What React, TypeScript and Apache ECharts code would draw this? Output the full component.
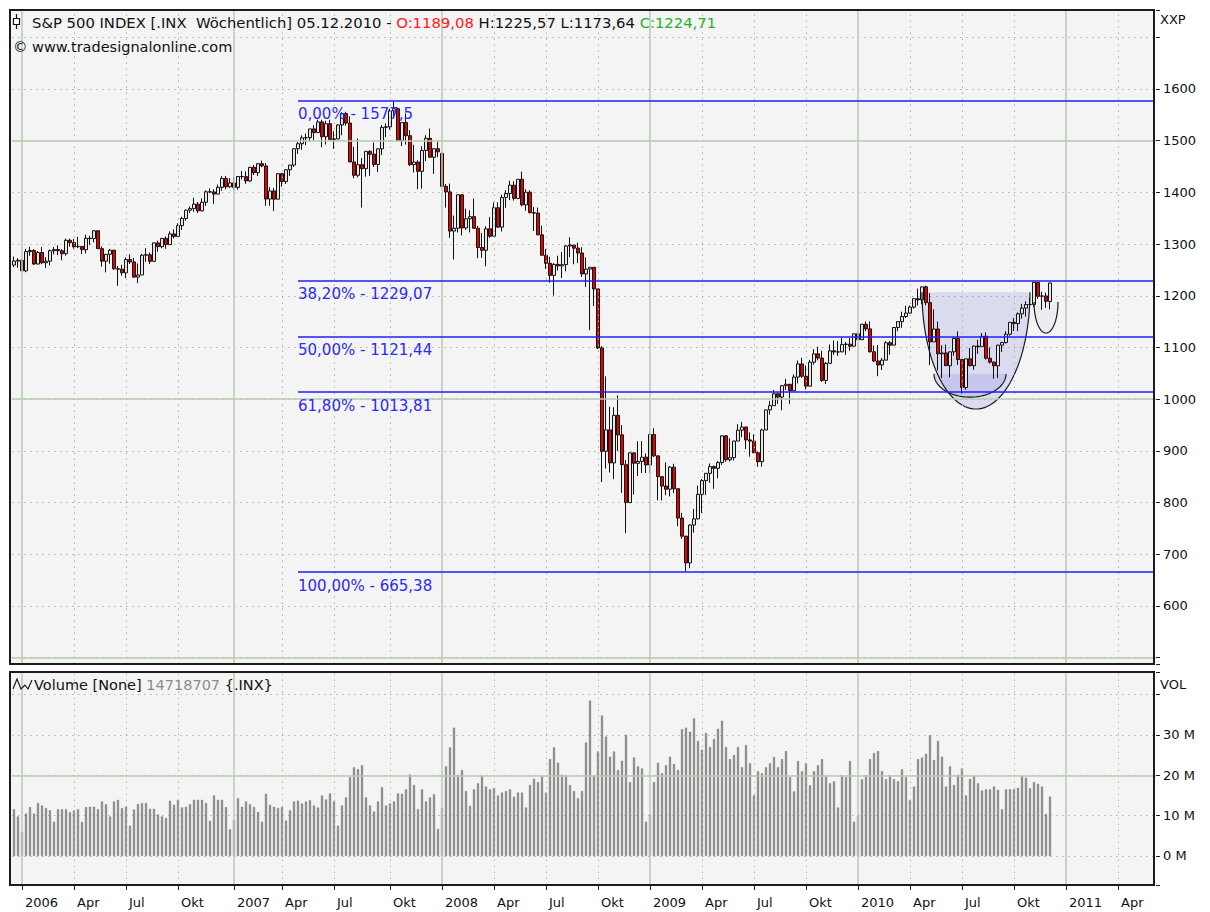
import React, { useEffect, useRef } from 'react';
import * as echarts from 'echarts';

// ---------- week axis (Sunday label dates of weekly bars) ----------
const firstWeekLabel = Date.UTC(2005, 11, 18);
const weekCount = 286;
const monthNames = ['Jan', 'Feb', 'Mär', 'Apr', 'Mai', 'Jun', 'Jul', 'Aug', 'Sep', 'Okt', 'Nov', 'Dez'];

// ---------- weekly OHLC rows [open, high, low, close] ----------
const ohlc2005 = [
  [1259.4, 1275.8, 1255.5, 1267.3], [1267.3, 1272.8, 1254.2, 1268.7], [1268.7, 1271.8, 1248.3, 1248.3],
];
const ohlc2006 = [
  [1248.3, 1290.7, 1245.7, 1285.5], [1285.5, 1294.9, 1277.3, 1287.6], [1287.6, 1290.0, 1259.7, 1261.5], [1261.5, 1286.4, 1260.9, 1283.7],
  [1283.7, 1294.2, 1261.2, 1264.0], [1264.0, 1274.6, 1253.6, 1266.9], [1266.9, 1289.5, 1258.9, 1287.2], [1287.2, 1294.2, 1280.2, 1289.4],
  [1289.4, 1297.6, 1278.7, 1287.2], [1287.2, 1290.0, 1268.7, 1281.4], [1281.4, 1310.9, 1277.6, 1307.3], [1307.3, 1310.6, 1295.1, 1302.9],
  [1302.9, 1310.2, 1291.2, 1294.9], [1294.9, 1314.1, 1292.1, 1295.5], [1295.5, 1296.1, 1280.7, 1289.1], [1289.1, 1318.2, 1282.0, 1311.3],
  [1311.3, 1316.0, 1298.4, 1310.6], [1310.6, 1326.7, 1303.5, 1325.8], [1325.8, 1326.7, 1291.2, 1291.2], [1291.2, 1295.7, 1256.6, 1267.0],
  [1267.0, 1280.6, 1245.3, 1280.2], [1280.2, 1290.7, 1262.1, 1288.2], [1288.2, 1288.9, 1250.0, 1252.3], [1252.3, 1257.6, 1219.3, 1251.5],
  [1251.5, 1260.1, 1238.7, 1244.5], [1244.5, 1274.1, 1234.4, 1270.2], [1270.2, 1280.4, 1261.3, 1265.5], [1265.5, 1273.3, 1234.7, 1236.2],
  [1236.2, 1262.6, 1224.5, 1240.3], [1240.3, 1280.9, 1240.1, 1278.6], [1278.6, 1292.2, 1265.7, 1279.4], [1279.4, 1283.7, 1261.3, 1266.7],
  [1266.7, 1303.6, 1266.7, 1302.3], [1302.3, 1306.7, 1285.3, 1295.1], [1295.1, 1312.0, 1291.9, 1311.0], [1311.0, 1314.7, 1290.9, 1299.0],
  [1299.0, 1324.7, 1298.2, 1319.7], [1319.7, 1328.5, 1310.9, 1314.8], [1314.8, 1340.3, 1314.8, 1335.8], [1335.8, 1353.0, 1327.1, 1349.6],
  [1349.6, 1366.6, 1345.1, 1365.6], [1365.6, 1372.9, 1360.1, 1368.6], [1368.6, 1389.5, 1362.3, 1377.3], [1377.3, 1381.4, 1360.3, 1364.3],
  [1364.3, 1388.6, 1363.5, 1380.9], [1380.9, 1403.8, 1374.0, 1401.2], [1401.2, 1407.9, 1398.5, 1400.9], [1400.9, 1406.3, 1377.8, 1396.7],
  [1396.7, 1415.3, 1396.7, 1409.8], [1409.8, 1431.6, 1403.1, 1427.1], [1427.1, 1431.8, 1405.9, 1410.8], [1410.8, 1427.7, 1408.8, 1418.3],
];
const ohlc2007 = [
  [1418.3, 1429.4, 1403.9, 1409.7], [1409.7, 1431.2, 1405.4, 1430.7], [1430.7, 1441.6, 1424.8, 1430.5], [1430.5, 1440.7, 1416.6, 1422.2],
  [1422.2, 1449.3, 1420.3, 1448.4], [1448.4, 1452.9, 1433.4, 1438.1], [1438.1, 1456.6, 1431.6, 1455.5], [1455.5, 1461.6, 1448.6, 1451.2],
  [1451.2, 1456.9, 1374.1, 1387.2], [1387.2, 1410.2, 1374.2, 1402.8], [1402.8, 1408.7, 1363.9, 1386.9], [1386.9, 1437.7, 1386.9, 1436.1],
  [1436.1, 1437.8, 1410.8, 1420.9], [1420.9, 1444.9, 1416.4, 1443.8], [1443.8, 1453.1, 1431.9, 1452.9], [1452.9, 1484.7, 1449.0, 1484.4],
  [1484.4, 1498.0, 1474.4, 1494.1], [1494.1, 1510.3, 1482.3, 1505.6], [1505.6, 1513.8, 1491.4, 1505.9], [1505.9, 1522.8, 1497.8, 1522.8],
  [1522.8, 1529.9, 1500.7, 1515.7], [1515.7, 1540.6, 1515.7, 1536.3], [1536.3, 1540.6, 1487.4, 1507.7], [1507.7, 1538.7, 1492.7, 1532.9],
  [1532.9, 1540.5, 1502.6, 1502.6], [1502.6, 1518.3, 1484.2, 1503.4], [1503.4, 1531.9, 1503.4, 1530.4], [1530.4, 1555.1, 1510.4, 1552.5],
  [1552.5, 1555.9, 1529.2, 1534.1], [1534.1, 1547.2, 1458.9, 1458.9], [1458.9, 1488.3, 1427.4, 1433.1], [1433.1, 1503.9, 1429.0, 1453.6],
  [1453.6, 1466.3, 1370.6, 1445.9], [1445.9, 1479.4, 1430.5, 1479.4], [1479.4, 1481.5, 1432.0, 1474.0], [1474.0, 1496.4, 1449.1, 1454.0],
  [1454.0, 1485.0, 1439.3, 1484.3], [1484.3, 1530.0, 1471.9, 1525.8], [1525.8, 1533.4, 1507.2, 1526.8], [1526.8, 1561.9, 1521.3, 1557.6],
  [1557.6, 1576.1, 1546.7, 1561.8], [1561.8, 1563.1, 1500.0, 1500.6], [1500.6, 1535.6, 1489.6, 1535.3], [1535.3, 1552.8, 1492.6, 1509.7],
  [1509.7, 1520.5, 1450.8, 1453.7], [1453.7, 1492.1, 1438.5, 1458.7], [1458.7, 1462.2, 1406.1, 1440.7], [1440.7, 1488.9, 1407.2, 1481.1],
  [1481.1, 1510.6, 1460.6, 1504.7], [1504.7, 1523.6, 1467.3, 1468.0], [1468.0, 1485.4, 1435.7, 1484.5], [1484.5, 1499.1, 1468.2, 1478.5],
];
const ohlc2008 = [
  [1475.3, 1478.0, 1410.9, 1411.6], [1411.6, 1416.3, 1370.6, 1401.0], [1401.0, 1417.0, 1312.0, 1325.2], [1325.2, 1355.2, 1270.1, 1330.6],
  [1330.6, 1396.0, 1322.4, 1395.4], [1395.4, 1396.0, 1316.8, 1331.3], [1331.3, 1368.7, 1327.6, 1349.0], [1349.0, 1365.4, 1322.6, 1353.1],
  [1353.1, 1388.3, 1330.6, 1330.6], [1330.6, 1335.1, 1272.7, 1293.4], [1293.4, 1321.7, 1273.4, 1288.1], [1288.1, 1334.6, 1257.0, 1329.5],
  [1329.5, 1352.2, 1312.3, 1315.2], [1315.2, 1380.9, 1315.2, 1370.4], [1370.4, 1380.9, 1332.0, 1332.8], [1332.8, 1395.9, 1324.4, 1390.3],
  [1390.3, 1404.6, 1370.2, 1397.8], [1397.8, 1422.7, 1385.2, 1413.9], [1413.9, 1421.6, 1384.1, 1388.3], [1388.3, 1425.9, 1386.7, 1425.4],
  [1425.4, 1440.2, 1373.1, 1375.9], [1375.9, 1406.3, 1364.4, 1400.4], [1400.4, 1404.1, 1359.8, 1360.7], [1360.7, 1371.6, 1325.3, 1360.0],
  [1360.0, 1370.6, 1317.3, 1317.9], [1317.9, 1335.6, 1278.4, 1278.4], [1278.4, 1290.7, 1252.0, 1262.9], [1262.9, 1275.4, 1225.3, 1239.5],
  [1239.5, 1263.2, 1200.4, 1260.7], [1260.7, 1277.4, 1248.7, 1257.8], [1257.8, 1284.9, 1234.4, 1260.3], [1260.3, 1297.9, 1247.4, 1296.3],
  [1296.3, 1313.2, 1274.8, 1298.2], [1298.2, 1298.2, 1261.0, 1292.2], [1292.2, 1303.0, 1263.2, 1282.8], [1282.8, 1294.0, 1236.4, 1242.3],
  [1242.3, 1274.4, 1217.2, 1251.7], [1251.7, 1255.2, 1133.5, 1255.1], [1255.1, 1255.1, 1180.0, 1213.3], [1213.3, 1213.5, 1097.0, 1099.2],
  [1099.2, 1102.5, 839.8, 899.2], [899.2, 1044.3, 865.8, 940.6], [940.6, 985.4, 858.4, 876.8], [876.8, 984.4, 845.3, 968.8],
  [968.8, 1007.5, 899.7, 931.0], [931.0, 950.0, 818.7, 873.3], [873.3, 882.3, 741.0, 800.0], [800.0, 896.3, 800.0, 896.2],
  [896.2, 896.2, 815.7, 876.1], [876.1, 918.6, 851.4, 879.7], [879.7, 918.9, 857.1, 887.9], [887.9, 895.0, 857.1, 872.8],
];
const ohlc2009 = [
  [872.8, 934.7, 857.3, 931.8], [931.8, 943.9, 888.3, 890.4], [890.4, 890.4, 804.5, 850.1], [850.1, 851.6, 804.3, 832.0],
  [832.0, 877.9, 814.3, 825.9], [825.9, 870.8, 812.0, 868.6], [868.6, 875.0, 818.4, 826.8], [826.8, 827.0, 754.3, 770.1],
  [770.1, 780.1, 730.0, 735.1], [735.1, 735.1, 666.8, 683.4], [683.4, 758.3, 672.9, 756.6], [756.6, 788.0, 741.9, 768.5],
  [768.5, 832.9, 767.6, 815.9], [815.9, 845.6, 779.8, 842.5], [842.5, 856.9, 814.5, 856.6], [856.6, 875.6, 838.6, 869.6],
  [869.6, 871.8, 826.8, 866.2], [866.2, 880.4, 847.1, 877.5], [877.5, 930.2, 873.0, 929.2], [929.2, 930.2, 878.9, 882.9],
  [882.9, 924.6, 879.6, 887.0], [887.0, 919.2, 881.3, 919.1], [919.1, 951.7, 919.1, 940.1], [940.1, 956.2, 926.6, 946.2],
  [946.2, 946.3, 903.8, 921.2], [921.2, 935.8, 888.9, 918.9], [918.9, 931.9, 896.4, 896.4], [896.4, 898.7, 869.3, 879.1],
  [879.1, 943.0, 869.3, 940.4], [940.4, 979.8, 940.4, 979.3], [979.3, 996.7, 970.2, 987.5], [987.5, 1018.0, 987.5, 1010.5],
  [1010.5, 1013.1, 991.0, 1004.1], [1004.1, 1027.6, 978.5, 1026.1], [1026.1, 1039.5, 1017.6, 1028.9], [1028.9, 1028.9, 991.0, 1016.4],
  [1016.4, 1048.2, 1016.4, 1042.7], [1042.7, 1074.8, 1030.6, 1068.3], [1068.3, 1080.2, 1041.2, 1044.4], [1044.4, 1065.4, 1019.0, 1025.2],
  [1025.2, 1076.0, 1025.2, 1071.5], [1071.5, 1096.6, 1066.8, 1087.7], [1087.7, 1101.4, 1075.0, 1079.6], [1079.6, 1094.0, 1033.4, 1036.2],
  [1036.2, 1072.0, 1029.4, 1069.3], [1069.3, 1106.0, 1069.3, 1093.5], [1093.5, 1113.7, 1085.7, 1091.4], [1091.4, 1112.4, 1083.7, 1091.5],
  [1091.5, 1119.1, 1091.5, 1106.0], [1106.0, 1110.7, 1085.9, 1106.4], [1106.4, 1118.4, 1093.9, 1102.5], [1102.5, 1126.5, 1102.5, 1126.5],
  [1126.5, 1130.4, 1114.8, 1115.1],
];
const ohlc2010 = [
  [1115.1, 1145.4, 1115.1, 1145.0], [1145.0, 1150.4, 1131.4, 1136.0], [1136.0, 1150.5, 1090.2, 1091.8], [1091.8, 1103.7, 1071.6, 1073.9],
  [1073.9, 1104.7, 1044.5, 1066.2], [1066.2, 1080.0, 1056.5, 1075.5], [1075.5, 1112.4, 1075.5, 1109.2], [1109.2, 1112.4, 1086.0, 1104.5],
  [1104.5, 1139.0, 1104.5, 1138.7], [1138.7, 1151.1, 1131.4, 1150.0], [1150.0, 1169.2, 1138.0, 1159.9], [1159.9, 1180.5, 1156.9, 1166.6],
  [1166.6, 1181.4, 1165.8, 1178.1], [1178.1, 1194.7, 1175.1, 1194.4], [1194.4, 1213.9, 1181.0, 1192.1], [1192.1, 1217.8, 1183.7, 1217.3],
  [1217.3, 1219.8, 1181.6, 1186.7], [1186.7, 1205.1, 1065.8, 1110.9], [1110.9, 1173.6, 1110.9, 1135.7], [1135.7, 1150.0, 1055.9, 1087.7],
  [1087.7, 1104.4, 1040.8, 1089.4], [1089.4, 1105.7, 1064.9, 1064.9], [1064.9, 1092.0, 1042.2, 1091.6], [1091.6, 1119.1, 1084.3, 1117.5],
  [1117.5, 1131.2, 1066.4, 1076.8], [1076.8, 1076.8, 1010.9, 1022.6], [1022.6, 1078.0, 1018.4, 1078.0], [1078.0, 1099.1, 1063.3, 1064.9],
  [1064.9, 1103.8, 1056.9, 1102.7], [1102.7, 1115.0, 1087.7, 1101.6], [1101.6, 1128.0, 1101.6, 1121.6], [1121.6, 1129.2, 1076.6, 1079.3],
  [1079.3, 1100.1, 1069.0, 1071.7], [1071.7, 1073.2, 1039.7, 1064.6], [1064.6, 1105.1, 1040.9, 1104.5], [1104.5, 1110.9, 1091.2, 1109.6],
  [1109.6, 1131.5, 1107.6, 1125.6], [1125.6, 1148.9, 1122.8, 1148.7], [1148.7, 1157.2, 1131.9, 1146.2], [1146.2, 1167.7, 1131.9, 1165.2],
  [1165.2, 1184.4, 1155.7, 1176.2], [1176.2, 1189.4, 1159.7, 1183.1], [1183.1, 1196.1, 1171.7, 1183.3], [1183.3, 1227.1, 1179.0, 1225.9],
  [1225.9, 1226.8, 1194.1, 1199.2], [1199.2, 1207.4, 1173.0, 1199.7], [1199.7, 1206.0, 1176.7, 1189.4], [1189.08, 1225.57, 1173.64, 1224.71],
];

// ---------- weekly volume (millions) ----------
const vol2005 = [11.6, 9.8, 6.0];
const vol2006 = [10.5, 12.1, 10.5, 13.1, 12.5, 11.9, 11.3, 8.5, 11.6, 11.6, 11.6, 10.8, 11.3, 11.6, 8.4, 12.1, 12.2, 12.2, 11.6, 13.5, 12.8, 9.8, 13.5, 13.9, 11.9, 12.2, 7.5, 11.5, 12.9, 13.1, 13.1, 11.7, 11.7, 10.3, 9.8, 9.4, 13.7, 12.7, 13.9, 12.0, 12.2, 12.8, 13.9, 13.9, 13.9, 13.1, 8.7, 15.0, 13.9, 13.9, 12.1, 6.6];
const vol2007 = [8.9, 14.3, 12.2, 13.5, 12.8, 12.1, 10.9, 8.5, 15.4, 12.7, 12.2, 11.9, 12.1, 8.8, 11.3, 13.5, 13.7, 13.0, 13.5, 13.8, 12.5, 12.0, 15.0, 14.0, 15.5, 13.5, 7.5, 12.5, 14.5, 19.5, 22.0, 21.5, 22.5, 14.5, 12.5, 11.0, 13.5, 17.0, 12.5, 13.0, 13.5, 15.5, 15.4, 16.5, 20.2, 17.6, 11.6, 16.5, 13.5, 14.5, 15.3, 6.7];
const vol2008 = [12.0, 22.2, 26.9, 31.8, 20.1, 21.3, 16.1, 12.4, 16.5, 18.0, 19.9, 17.2, 16.5, 16.8, 15.0, 15.7, 16.1, 16.5, 14.7, 15.7, 15.7, 12.0, 17.6, 19.1, 18.3, 19.9, 15.7, 24.0, 26.9, 23.1, 20.1, 19.9, 17.6, 16.1, 14.3, 16.1, 28.1, 38.5, 19.9, 25.9, 34.8, 29.6, 24.6, 25.9, 21.3, 23.6, 30.0, 18.3, 24.4, 22.2, 21.7, 8.5];
const vol2009 = [10.4, 18.3, 23.1, 20.5, 22.5, 24.6, 22.8, 21.3, 31.4, 31.8, 30.8, 34.1, 28.5, 26.3, 30.5, 27.0, 29.0, 31.5, 33.5, 27.0, 24.0, 25.0, 27.0, 22.0, 27.5, 23.0, 15.0, 21.0, 20.5, 22.0, 23.0, 24.5, 22.0, 24.0, 26.0, 19.5, 16.0, 23.5, 21.0, 23.0, 17.5, 21.0, 22.5, 24.0, 20.0, 18.0, 18.5, 12.0, 20.0, 19.5, 23.5, 8.5, 10.0];
const vol2010 = [19.0, 20.0, 24.0, 25.5, 26.0, 21.0, 19.0, 20.0, 19.0, 18.5, 21.5, 19.5, 13.9, 17.2, 24.0, 24.4, 25.3, 29.9, 23.8, 28.5, 24.6, 17.2, 22.2, 17.6, 20.1, 21.7, 15.0, 19.1, 19.9, 18.0, 16.2, 16.5, 16.5, 17.2, 16.4, 11.6, 16.5, 16.5, 16.5, 16.9, 19.9, 19.4, 16.8, 18.3, 17.9, 17.2, 10.4, 14.72];

// ---------- Fibonacci retracement ----------
const fibLevels = [1577.5, 1229.07, 1121.44, 1013.81, 665.38];
const fibLabels = ['0,00% - 1577,5', '38,20% - 1229,07', '50,00% - 1121,44', '61,80% - 1013,81', '100,00% - 665,38'];
const fibStartWeek = 71;

// ---------- cup & handle annotation (week index, price) ----------
const cupOuter = { from: 227, to: 254, top: 1207, bottom: 981 };
const cupInner = { from: 230, to: 248, top: 1049, bottom: 1004 };
const cupHandle = { from: 255, to: 261, top: 1188, bottom: 1128 };

// ---------- axes ranges / ticks ----------
const priceSolid = [500, 1000, 1500];
const volSolid = [20];
const priceRange = [487.8, 1752.8];
const volRange = [-7.19, 45.6];

const FONT = '"DejaVu Sans", Verdana, sans-serif';
const DOT = '#a6bba1';
const SOLID = '#b9cdb3';

const cats: string[] = [];
const catDates: Date[] = [];
for (let i = 0; i < weekCount; i++) {
  const d = new Date(firstWeekLabel + i * 7 * 86400000);
  catDates.push(d);
  cats.push(d.toISOString().slice(0, 10));
}
const isQuarter = (i: number) => i > 0 && catDates[i].getUTCMonth() !== catDates[i - 1].getUTCMonth() && catDates[i].getUTCMonth() % 3 === 0;
const isYear = (i: number) => isQuarter(i) && catDates[i].getUTCMonth() === 0;
const quarterIdx = cats.map((_, i) => i).filter(isQuarter);
const yearIdx = quarterIdx.filter(isYear);
const labelOf: Record<string, string> = {};
quarterIdx.forEach((i) => {
  const m = catDates[i].getUTCMonth();
  labelOf[cats[i]] = m === 0 ? String(catDates[i].getUTCFullYear()) : monthNames[m];
});

const rows = [...ohlc2005, ...ohlc2006, ...ohlc2007, ...ohlc2008, ...ohlc2009, ...ohlc2010];
const candles = rows.map((r) => [r[0], r[3], r[2], r[1]]);
const volumes = [...vol2005, ...vol2006, ...vol2007, ...vol2008, ...vol2009, ...vol2010];

const vLines = (solidVals: number[]) => [
  ...quarterIdx.filter((i) => !isYear(i)).map((i) => ({ xAxis: i, lineStyle: { type: [1.5, 4.5], color: DOT, width: 1 } })),
  ...yearIdx.map((i) => ({ xAxis: i, lineStyle: { type: 'solid', color: SOLID, width: 1.5 } })),
  ...solidVals.map((v) => ({ yAxis: v, lineStyle: { type: 'solid', color: SOLID, width: 1.5 } })),
];

const option: any = {
  animation: false,
  backgroundColor: '#ffffff',
  grid: [
    { left: 12, width: 1144, top: 10, height: 654 },
    { left: 12, width: 1144, top: 672, height: 213 },
  ],
  xAxis: [
    { type: 'category', gridIndex: 0, data: cats, boundaryGap: true, axisLine: { show: false, onZero: false }, axisTick: { show: false }, axisLabel: { show: false }, splitLine: { show: false } },
    {
      type: 'category', gridIndex: 1, data: cats, boundaryGap: true, position: 'bottom',
      axisLine: { show: false, onZero: false },
      axisTick: { show: true, interval: (i: number) => isQuarter(i), alignWithLabel: true, length: 5, lineStyle: { color: '#222' } },
      axisLabel: { interval: (i: number) => isQuarter(i), formatter: (v: string) => labelOf[v] || '', align: 'left', padding: [0, 0, 0, 3], margin: 11, fontSize: 13, color: '#111', fontFamily: FONT },
      splitLine: { show: false },
    },
  ],
  yAxis: [
    {
      type: 'value', gridIndex: 0, position: 'right', min: priceRange[0], max: priceRange[1], minInterval: 100, maxInterval: 100, splitNumber: 12,
      axisLine: { show: false }, axisTick: { show: true, length: 4, lineStyle: { color: '#222' } },
      axisLabel: { formatter: (v: number) => (v >= 600 && v <= 1600 && v % 100 === 0 ? String(v) : ''), margin: 7, fontSize: 13, color: '#111', fontFamily: FONT },
      splitLine: { show: true, lineStyle: { type: [1.5, 4.5], color: DOT } },
    },
    {
      type: 'value', gridIndex: 1, position: 'right', min: volRange[0], max: volRange[1], minInterval: 10, maxInterval: 10, splitNumber: 5,
      axisLine: { show: false }, axisTick: { show: true, length: 4, lineStyle: { color: '#222' } },
      axisLabel: { formatter: (v: number) => (v >= 0 && v <= 30 && v % 10 === 0 ? v + ' M' : ''), margin: 7, fontSize: 13, color: '#111', fontFamily: FONT },
      splitLine: { show: true, lineStyle: { type: [1.5, 4.5], color: DOT } },
    },
  ],
  series: [
    {
      type: 'line', xAxisIndex: 0, yAxisIndex: 0, data: [], z: 1, silent: true,
      markLine: { silent: true, symbol: ['none', 'none'], label: { show: false }, data: vLines(priceSolid) },
    },
    {
      type: 'candlestick', xAxisIndex: 0, yAxisIndex: 0, data: candles, barWidth: 3, z: 2,
      itemStyle: { color: '#e6e6e6', color0: '#e80000', borderColor: '#111', borderColor0: '#111', borderWidth: 1 },
    },
    {
      type: 'line', xAxisIndex: 0, yAxisIndex: 0, data: [], z: 4, silent: true,
      markLine: {
        silent: true, symbol: ['none', 'none'],
        lineStyle: { type: 'solid', color: '#1f1fff', width: 1.5 },
        data: fibLevels.map((lv, k) => [
          { coord: [fibStartWeek, lv], label: { show: true, position: 'insideStartBottom', formatter: fibLabels[k], color: '#2a2aff', fontSize: 15, fontFamily: FONT, distance: [0, 6] } },
          { coord: [weekCount - 1, lv] },
        ]),
      },
    },
    {
      type: 'line', xAxisIndex: 1, yAxisIndex: 1, data: [], z: 1, silent: true,
      markLine: { silent: true, symbol: ['none', 'none'], label: { show: false }, data: vLines(volSolid) },
    },
    {
      type: 'bar', xAxisIndex: 1, yAxisIndex: 1, data: volumes, barWidth: 2, z: 2,
      itemStyle: { color: '#8a8a8a', borderColor: '#6c6c6c', borderWidth: 0.4 },
    },
  ],
};

export default function App() {
  const ref = useRef<HTMLDivElement>(null);
  useEffect(() => {
    const chart = echarts.init(ref.current!, null, { renderer: 'svg' });
    chart.setOption(option);

    const half = (c: { from: number; to: number; top: number; bottom: number }, fill: string) => {
      const [xl, yt] = chart.convertToPixel({ gridIndex: 0 }, [c.from, c.top]) as number[];
      const [xr] = chart.convertToPixel({ gridIndex: 0 }, [c.to, c.top]) as number[];
      const [, yb] = chart.convertToPixel({ gridIndex: 0 }, [c.from, c.bottom]) as number[];
      const cx = (xl + xr) / 2, rx = (xr - xl) / 2, ry = yb - yt;
      const pts: number[][] = [];
      for (let k = 0; k <= 60; k++) {
        const t = (Math.PI * k) / 60;
        pts.push([cx + rx * Math.cos(t), yt + ry * Math.sin(t)]);
      }
      return [
        { type: 'polygon', shape: { points: pts }, style: { fill }, z: 1, silent: true },
        { type: 'polyline', shape: { points: pts }, style: { stroke: '#1a1a1a', lineWidth: 1.2, fill: 'none' }, z: 3, silent: true },
      ];
    };

    const graphics: any[] = [
      { type: 'rect', shape: { x: 10, y: 10, width: 1144, height: 654 }, style: { fill: '#f4f4f4' }, z: -10, silent: true },
      { type: 'rect', shape: { x: 10, y: 672, width: 1144, height: 213 }, style: { fill: '#f4f4f4' }, z: -10, silent: true },
      ...half(cupOuter, 'rgba(120,120,225,0.2)'),
      ...half(cupInner, 'rgba(120,120,225,0.2)'),
      ...half(cupHandle, 'rgba(120,120,225,0.06)'),
      { type: 'rect', shape: { x: 10, y: 10, width: 1144, height: 654 }, style: { fill: 'none', stroke: '#1c1c1c', lineWidth: 2 }, z: 50, silent: true },
      { type: 'rect', shape: { x: 10, y: 672, width: 1144, height: 213 }, style: { fill: 'none', stroke: '#1c1c1c', lineWidth: 2 }, z: 50, silent: true },
      // header icon
      { type: 'line', shape: { x1: 16.5, y1: 14, x2: 16.5, y2: 29 }, style: { stroke: '#111', lineWidth: 1.2 }, z: 60, silent: true },
      { type: 'rect', shape: { x: 13.5, y: 18.5, width: 6, height: 6 }, style: { fill: '#fff', stroke: '#111', lineWidth: 1.2 }, z: 61, silent: true },
      {
        type: 'text', x: 32, y: 22, z: 60, silent: true,
        style: {
          text: '{k|S&P 500 INDEX [.INX  Wöchentlich] 05.12.2010 - }{r|O:1189,08}{k| H:1225,57 L:1173,64 }{g|C:1224,71}',
          verticalAlign: 'middle', fontFamily: FONT, fontSize: 14.8, fill: '#111',
          rich: {
            k: { fontFamily: FONT, fontSize: 14.8, fill: '#111' },
            r: { fontFamily: FONT, fontSize: 14.8, fill: '#ff1a1a' },
            g: { fontFamily: FONT, fontSize: 14.8, fill: '#1fb31f' },
          },
        },
      },
      { type: 'text', x: 13, y: 47, z: 60, silent: true, style: { text: '© www.tradesignalonline.com', verticalAlign: 'middle', fontFamily: FONT, fontSize: 14.5, fill: '#111' } },
      { type: 'text', x: 1160, y: 19, z: 60, silent: true, style: { text: 'XXP', verticalAlign: 'middle', fontFamily: FONT, fontSize: 13, fill: '#111' } },
      { type: 'text', x: 1160, y: 684, z: 60, silent: true, style: { text: 'VOL', verticalAlign: 'middle', fontFamily: FONT, fontSize: 13, fill: '#111' } },
      // volume header icon
      { type: 'polyline', shape: { points: [[13, 689], [17, 679], [21, 689], [25, 685], [28, 689], [32, 680]] }, style: { stroke: '#111', lineWidth: 1.1, fill: 'none' }, z: 60, silent: true },
      {
        type: 'text', x: 34, y: 685, z: 60, silent: true,
        style: {
          text: '{k|Volume [None] }{g|14718707}{k| {.INX}}',
          verticalAlign: 'middle', fontFamily: FONT, fontSize: 14.5, fill: '#111',
          rich: {
            k: { fontFamily: FONT, fontSize: 14.5, fill: '#111' },
            g: { fontFamily: FONT, fontSize: 14.5, fill: '#8c8c8c' },
          },
        },
      },
    ];
    chart.setOption({ graphic: graphics });
    return () => chart.dispose();
  }, []);
  return <div ref={ref} style={{ position: 'absolute', left: 0, top: 0, width: 1210, height: 912 }} />;
}
